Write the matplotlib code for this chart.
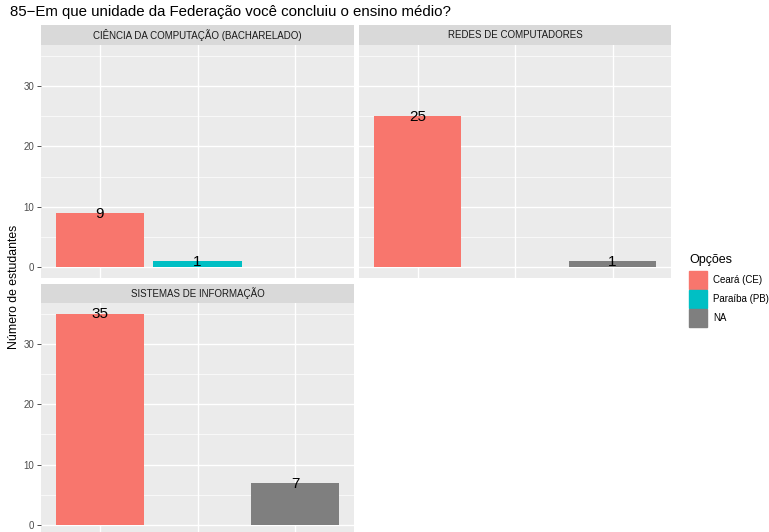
import matplotlib
matplotlib.use("Agg")
import matplotlib.pyplot as plt
from matplotlib.patches import Rectangle

plt.rcParams['font.family'] = ['Liberation Sans', 'DejaVu Sans']

title = "85\u2212Em que unidade da Federação você concluiu o ensino médio?"
courses = ["CIÊNCIA DA COMPUTAÇÃO (BACHARELADO)", "REDES DE COMPUTADORES", "SISTEMAS DE INFORMAÇÃO"]
options = ["Ceará (CE)", "Paraíba (PB)", "NA"]
colors = ["#F8766D", "#00BFC4", "#7F7F7F"]
cc_counts = [9, 1, None]
redes_counts = [25, None, 1]
si_counts = [35, None, 7]
yticks = [0, 10, 20, 30]

W, H = 769, 532
fig = plt.figure(figsize=(W / 100, H / 100), dpi=100)


def px_box(x0, y0, x1, y1):
    # pixel box (top-left origin) -> figure fraction
    return [x0 / W, (H - y1) / H, (x1 - x0) / W, (y1 - y0) / H]


def draw_panel(box, strip_box, name, counts, show_y):
    ax = fig.add_axes(px_box(*box))
    ax.set_facecolor("#EBEBEB")
    ax.set_xlim(0.4, 3.6)
    ax.set_ylim(-1.75, 36.75)
    for y in [5, 15, 25, 35]:
        ax.axhline(y, color="white", lw=0.5, zorder=0)
    for y in yticks:
        ax.axhline(y, color="white", lw=1.0, zorder=0)
    for x in [1, 2, 3]:
        ax.axvline(x, color="white", lw=1.0, zorder=0)
    for i, v in enumerate(counts):
        if v is None:
            continue
        ax.bar(i + 1, v, width=0.9, color=colors[i], zorder=2)
        ax.text(i + 1, v - 0.15, str(v), ha="center", va="center", fontsize=11,
                color="black", zorder=3)
    for s in ax.spines.values():
        s.set_visible(False)
    ax.set_xticks([])
    ax.set_yticks(yticks)
    if show_y:
        ax.tick_params(axis="y", length=3, width=0.6, color="#333333",
                       labelsize=7, labelcolor="#4D4D4D", pad=2)
    else:
        ax.tick_params(axis="y", length=0, labelleft=False)
    sax = fig.add_axes(px_box(*strip_box))
    sax.set_facecolor("#D9D9D9")
    sax.set_xticks([])
    sax.set_yticks([])
    for s in sax.spines.values():
        s.set_visible(False)
    sax.text(0.5, 0.5, name, ha="center", va="center", fontsize=7,
             color="#1A1A1A", transform=sax.transAxes)
    return ax


draw_panel((41, 45, 354, 278), (41, 25, 354, 45), courses[0], cc_counts, True)
draw_panel((359, 45, 671, 278), (359, 25, 671, 45), courses[1], redes_counts, False)
draw_panel((41, 303, 354, 535.5), (41, 284, 354, 303), courses[2], si_counts, True)

fig.text(10 / W, 1 - 12 / H, title, ha="left", va="center", fontsize=10.8)
fig.text(14 / W, 1 - 287 / H, "Número de estudantes", rotation=90,
         ha="center", va="center", fontsize=8.8)

# legend
fig.text(689 / W, 1 - 260 / H, "Opções", ha="left", va="center", fontsize=9)
for i, (lab, col) in enumerate(zip(options, colors)):
    y0 = 271 + i * 19
    fig.patches.append(Rectangle((689 / W, 1 - (y0 + 18) / H), 18 / W, 18 / H,
                                 transform=fig.transFigure, color=col))
    fig.text(713 / W, 1 - (y0 + 9) / H, lab, ha="left", va="center", fontsize=7)

fig.savefig("out.png", dpi=100)
